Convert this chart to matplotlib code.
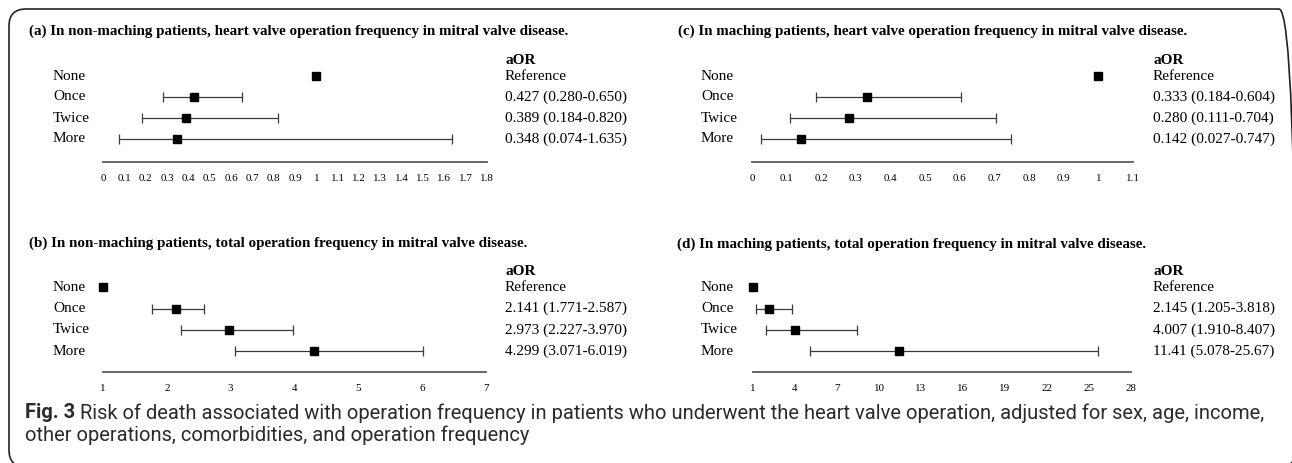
import matplotlib
matplotlib.use("Agg")
import matplotlib.pyplot as plt
import matplotlib.transforms as mtransforms
from matplotlib.patches import FancyBboxPatch

# ---- data ----
rows = ["None", "Once", "Twice", "More"]

a_title = "(a) In non-maching patients, heart valve operation frequency in mitral valve disease."
a_est = [1, 0.427, 0.389, 0.348]
a_lo = [1, 0.280, 0.184, 0.074]
a_hi = [1, 0.650, 0.820, 1.635]
a_txt = ["Reference", "0.427 (0.280-0.650)", "0.389 (0.184-0.820)", "0.348 (0.074-1.635)"]
a_ticks = [0, 0.1, 0.2, 0.3, 0.4, 0.5, 0.6, 0.7, 0.8, 0.9, 1, 1.1, 1.2, 1.3, 1.4, 1.5, 1.6, 1.7, 1.8]

c_title = "(c) In maching patients, heart valve operation frequency in mitral valve disease."
c_est = [1, 0.333, 0.280, 0.142]
c_lo = [1, 0.184, 0.111, 0.027]
c_hi = [1, 0.604, 0.704, 0.747]
c_txt = ["Reference", "0.333 (0.184-0.604)", "0.280 (0.111-0.704)", "0.142 (0.027-0.747)"]
c_ticks = [0, 0.1, 0.2, 0.3, 0.4, 0.5, 0.6, 0.7, 0.8, 0.9, 1, 1.1]

b_title = "(b) In non-maching patients, total operation frequency in mitral valve disease."
b_est = [1, 2.141, 2.973, 4.299]
b_lo = [1, 1.771, 2.227, 3.071]
b_hi = [1, 2.587, 3.970, 6.019]
b_txt = ["Reference", "2.141 (1.771-2.587)", "2.973 (2.227-3.970)", "4.299 (3.071-6.019)"]
b_ticks = [1, 2, 3, 4, 5, 6, 7]

d_title = "(d) In maching patients, total operation frequency in mitral valve disease."
d_est = [1, 2.145, 4.007, 11.41]
d_lo = [1, 1.205, 1.910, 5.078]
d_hi = [1, 3.818, 8.407, 25.67]
d_txt = ["Reference", "2.145 (1.205-3.818)", "4.007 (1.910-8.407)", "11.41 (5.078-25.67)"]
d_ticks = [1, 4, 7, 10, 13, 16, 19, 22, 25, 28]

caption_bold = "Fig. 3"
caption_1 = (" Risk of death associated with operation frequency in patients who underwent the heart "
             "valve operation, adjusted for sex, age, income,")
caption_2 = "other operations, comorbidities, and operation frequency"

W, H = 1292, 463
fig = plt.figure(figsize=(W / 100, H / 100), dpi=100)
serif = "Liberation Serif"


def px(x, y):
    return x / W, 1 - y / H


def forest(x0, x1, y_top, y_axis, row_gap, title, title_xy, est, lo, hi, txt, ticks,
           lab_x, txt_x):
    left, bottom = px(x0, y_axis)
    right, top = px(x1, y_top)
    ax = fig.add_axes([left, bottom, right - left, top - bottom])
    ax.set_xlim(ticks[0], ticks[-1])
    ax.set_ylim(-1 + (y_axis - y_top) / row_gap, -1)
    ypos = list(range(len(rows)))
    err = [[e - l for e, l in zip(est[1:], lo[1:])], [h - e for e, h in zip(est[1:], hi[1:])]]
    ax.errorbar(est[1:], ypos[1:], xerr=err, fmt="none", ecolor="#3a3a3a",
                elinewidth=0.9, capsize=3.8, capthick=0.9)
    ax.plot(est, ypos, "s", color="black", markersize=6, linestyle="none", clip_on=False,
            zorder=3)
    for s in ["top", "left", "right"]:
        ax.spines[s].set_visible(False)
    ax.spines["bottom"].set_color("#5a5a5a")
    ax.spines["bottom"].set_linewidth(1.3)
    ax.set_yticks([])
    ax.set_xticks(ticks)
    ax.set_xticklabels([f"{t:g}" for t in ticks], fontfamily=serif, fontsize=7.9)
    ax.tick_params(axis="x", length=0, pad=8.5)
    ax.patch.set_visible(False)

    tr_l = mtransforms.blended_transform_factory(fig.transFigure, ax.transData)
    for i, r in enumerate(rows):
        fig.text(lab_x / W, i, r, transform=tr_l, fontfamily=serif, fontsize=11, va="center")
        fig.text(txt_x / W, i, txt[i], transform=tr_l, fontfamily=serif, fontsize=11, va="center")
    fig.text(txt_x / W, -0.75, "aOR", transform=tr_l, fontfamily=serif, fontsize=11,
             fontweight="bold", va="center")
    tx, ty = px(*title_xy)
    fig.text(tx, ty, title, fontfamily=serif, fontsize=10.8, fontweight="bold", va="center")
    return ax


forest(103, 487, 55, 162, 21, a_title, (29, 31), a_est, a_lo, a_hi, a_txt, a_ticks, 53, 505)
forest(752, 1133, 55, 162, 21, c_title, (678, 31), c_est, c_lo, c_hi, c_txt, c_ticks, 701, 1153)
forest(103, 486, 266, 372, 21.3, b_title, (29, 243), b_est, b_lo, b_hi, b_txt, b_ticks, 53, 505)
forest(753, 1131, 266, 372, 21.3, d_title, (677, 244), d_est, d_lo, d_hi, d_txt, d_ticks, 701, 1153)

# rounded frame, right and bottom edges run just past the picture
frame = FancyBboxPatch((9, -4), 1296 - 9, 463 + 4 - 9,
                       boxstyle="round,pad=0,rounding_size=17",
                       transform=mtransforms.IdentityTransform(),
                       fill=False, edgecolor="#222222", linewidth=1.2)
fig.add_artist(frame)

# caption, sized to span the same width as the original line
cap_font = "Roboto"
cap_col = "#2b2b2b"
cx, cy = px(25, 413)
t_bold = fig.text(cx, cy, caption_bold, fontfamily=cap_font, fontweight="bold",
                  fontsize=12, va="center", color=cap_col)
t_rest = fig.text(cx, cy, caption_1, fontfamily=cap_font, fontsize=12,
                  va="center", color=cap_col)
fig.canvas.draw()
r = fig.canvas.get_renderer()
w_all = t_bold.get_window_extent(r).width + t_rest.get_window_extent(r).width
size = 12 * (1260 - 25) / w_all
t_bold.set_fontsize(size)
t_rest.set_fontsize(size)
fig.canvas.draw()
bb = t_bold.get_window_extent(r)
t_rest.set_x(bb.x1 / W)
fig.text(cx, px(25, 435)[1], caption_2, fontfamily=cap_font,
         fontsize=size, va="center", color=cap_col)

fig.savefig("out.png", dpi=100)
